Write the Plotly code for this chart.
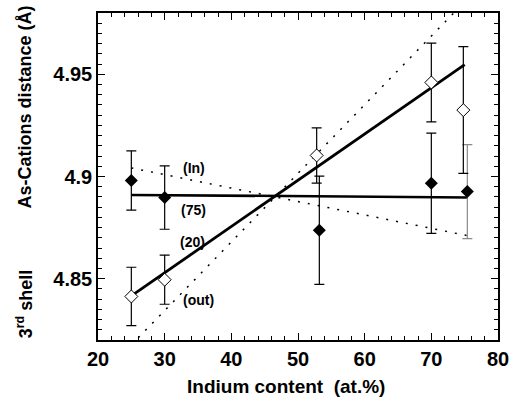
import plotly.graph_objects as go

# Data
x_filled = [25, 30, 53.2, 70, 75.4]
y_filled = [4.898, 4.8897, 4.8737, 4.8967, 4.8926]
e_filled = [0.0145, 0.0155, 0.0265, 0.0245, 0.023]

x_open = [25, 30, 52.8, 70, 74.8]
y_open = [4.8413, 4.8495, 4.9103, 4.946, 4.9325]
e_open = [0.0143, 0.012, 0.0135, 0.0193, 0.031]

fit20_x = [25, 75]
fit20_y = [4.8416, 4.9547]
fit75_x = [25, 75.5]
fit75_y = [4.891, 4.8897]
in_x = [25, 75.5]
in_y = [4.9042, 4.871]
out_x = [25, 75]
out_y = [4.8176, 4.9855]

labels = ["(In)", "(75)", "(20)", "(out)"]
label_x = [34.4, 34.3, 34.1, 35.1]
label_y = [4.9044, 4.8836, 4.8678, 4.8395]

x_ticks = [20, 30, 40, 50, 60, 70, 80]
x_ticktext = ["20", "30", "40", "50", "60", "70", "80"]
y_ticks = [4.85, 4.9, 4.95]
y_ticktext = ["4.85", "4.9", "4.95"]

FONT = "Liberation Sans"

fig = go.Figure()

# dotted lines
fig.add_trace(go.Scatter(x=in_x, y=in_y, mode="lines",
                         line=dict(color="black", width=1.5, dash="2px,8px"),
                         showlegend=False))
fig.add_trace(go.Scatter(x=out_x, y=out_y, mode="lines",
                         line=dict(color="black", width=1.5, dash="2px,8px"),
                         showlegend=False))
# thick fit lines
fig.add_trace(go.Scatter(x=fit20_x, y=fit20_y, mode="lines",
                         line=dict(color="black", width=2.8), showlegend=False))
fig.add_trace(go.Scatter(x=fit75_x, y=fit75_y, mode="lines",
                         line=dict(color="black", width=2.5), showlegend=False))

# filled diamonds (last one has a grey error bar)
fig.add_trace(go.Scatter(x=x_filled[:-1], y=y_filled[:-1], mode="markers",
                         marker=dict(symbol="diamond", size=10, color="black"),
                         error_y=dict(type="data", array=e_filled[:-1], color="black",
                                      thickness=1.2, width=5),
                         showlegend=False))
fig.add_trace(go.Scatter(x=x_filled[-1:], y=y_filled[-1:], mode="markers",
                         marker=dict(symbol="diamond", size=10, color="black"),
                         error_y=dict(type="data", array=e_filled[-1:], color="#8a8a8a",
                                      thickness=1.2, width=5),
                         showlegend=False))
# open diamonds
fig.add_trace(go.Scatter(x=x_open, y=y_open, mode="markers",
                         marker=dict(symbol="diamond", size=10, color="white",
                                     line=dict(color="black", width=1)),
                         error_y=dict(type="data", array=e_open, color="black",
                                      thickness=1.2, width=5),
                         showlegend=False))

for t, xx, yy in zip(labels, label_x, label_y):
    fig.add_annotation(x=xx, y=yy, text="<b>" + t + "</b>", showarrow=False,
                       font=dict(family=FONT, size=14, color="black"))

# y-axis title parts
fig.add_annotation(xref="paper", yref="paper", x=-0.183, y=1.03, xanchor="center",
                   yanchor="top", textangle=-90, showarrow=False,
                   text="<b>As-Cations distance (Å)</b>",
                   font=dict(family=FONT, size=18, color="black"))
fig.add_annotation(xref="paper", yref="paper", x=-0.183, y=0.0, xanchor="center",
                   yanchor="bottom", textangle=-90, showarrow=False,
                   text="<b>3<sup>rd</sup> shell</b>",
                   font=dict(family=FONT, size=18, color="black"))
# x-axis title
fig.add_annotation(xref="paper", yref="paper", x=0.47, y=-0.141, xanchor="center",
                   yanchor="middle", showarrow=False,
                   text="<b>Indium content  (at.%)</b>",
                   font=dict(family=FONT, size=19, color="black"))

axis_common = dict(showgrid=False, zeroline=False, showline=True, linecolor="black",
                   linewidth=1.5, mirror="allticks", ticks="inside", ticklen=7,
                   tickwidth=1.2, tickcolor="black",
                   tickfont=dict(family=FONT, size=20, color="black", weight="bold"))

fig.update_xaxes(range=[20, 80], tickvals=x_ticks,
                 ticktext=["<b>" + t + "</b>" for t in x_ticktext],
                 minor=dict(dtick=2, ticks="inside", ticklen=4, tickcolor="black",
                            tickwidth=1),
                 **axis_common)
fig.update_yaxes(range=[4.82, 4.98], tickvals=y_ticks,
                 ticktext=["<b>" + t + "</b>" for t in y_ticktext],
                 minor=dict(dtick=0.005, tick0=4.8, ticks="inside", ticklen=4,
                            tickcolor="black", tickwidth=1),
                 **axis_common)

fig.update_layout(width=520, height=405, margin=dict(l=98, r=11, t=13, b=65),
                  plot_bgcolor="white", paper_bgcolor="white",
                  font=dict(family=FONT, color="black"))

fig.write_html("out.html", config={"displayModeBar": False},
               post_script="document.body.style.margin='0';document.body.style.overflow='hidden';")
